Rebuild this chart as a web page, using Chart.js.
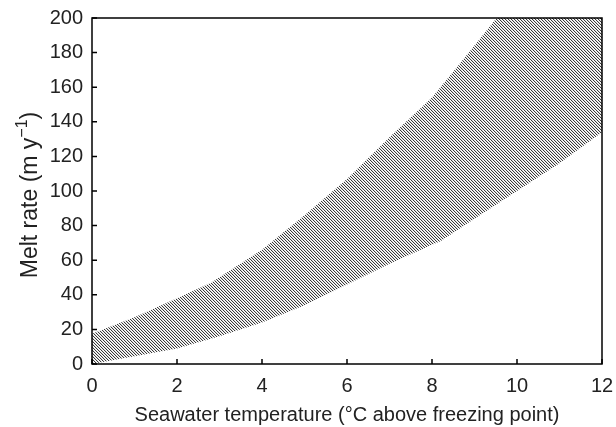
<!DOCTYPE html>
<html>
<head>
<meta charset="utf-8">
<script src="https://cdn.jsdelivr.net/npm/chart.js@4.4.1/dist/chart.umd.min.js"></script>
<style>
  html, body { margin: 0; padding: 0; background: #fff; }
  #wrap { width: 616px; height: 427px; }
</style>
</head>
<body>
<div id="wrap"><canvas id="chart" width="616" height="427"></canvas></div>
<script>
// band edges
const lowerX = [0, 1, 2, 3, 4, 5, 6, 7, 8, 8.2, 9, 10, 11, 12];
const lowerY = [0, 4.5, 9, 16, 24, 34, 46, 58, 69, 71, 84, 100, 116, 134];
const upperX = [0, 1, 2, 2.8, 4, 5, 6, 7, 8, 8.7, 9.52, 12];
const upperY = [17.5, 27, 38, 47, 66, 86, 107, 131, 154, 175, 200, 200];

const xTicks = [0, 2, 4, 6, 8, 10, 12];
const yTicks = [0, 20, 40, 60, 80, 100, 120, 140, 160, 180, 200];

const fontFamily = "'Liberation Sans', Arial, sans-serif";
const textColor = "#222";

function hatchPattern() {
    const c = document.createElement("canvas");
    c.width = 3;
    c.height = 3;
    const g = c.getContext("2d");
    g.fillStyle = "#fff";
    g.fillRect(0, 0, 3, 3);
    for (let i = 0; i < 3; i++) {
        g.fillStyle = "#3a3a3a";
        g.fillRect(i, i, 1, 1);
        g.fillStyle = "#dcdcdc";
        g.fillRect((i + 1) % 3, i, 1, 1);
    }
    return g.createPattern(c, "repeat");
}

// closed outline: along the lower edge, then back along the upper edge
const band = [];
lowerX.forEach((x, i) => band.push({ x, y: lowerY[i] }));
for (let i = upperX.length - 1; i >= 0; i--) band.push({ x: upperX[i], y: upperY[i] });

const frame = {
    id: "frame",
    afterDatasetsDraw(chart) {
        const { ctx, chartArea: a, scales } = chart;
        ctx.save();
        ctx.strokeStyle = "#000";
        ctx.lineWidth = 1.5;
        ctx.beginPath();
        xTicks.forEach(v => {
            const px = scales.x.getPixelForValue(v);
            ctx.moveTo(px, a.bottom);
            ctx.lineTo(px, a.bottom - 5);
        });
        yTicks.forEach(v => {
            const py = scales.y.getPixelForValue(v);
            ctx.moveTo(a.left, py);
            ctx.lineTo(a.left + 5, py);
        });
        ctx.stroke();
        ctx.strokeRect(a.left, a.top, a.right - a.left, a.bottom - a.top);
        ctx.restore();
    }
};

// y title with a real superscript
const yTitle = {
    id: "yTitle",
    afterDraw(chart) {
        const { ctx, chartArea: a } = chart;
        const parts = [
            { t: "Melt rate (m y", size: 23, rise: 0 },
            { t: "\u22121", size: 16, rise: 10 },
            { t: ")", size: 23, rise: 0 }
        ];
        ctx.save();
        let total = 0;
        parts.forEach(p => {
            ctx.font = `${p.size}px ${fontFamily}`;
            p.w = ctx.measureText(p.t).width;
            total += p.w;
        });
        ctx.translate(37, (a.top + a.bottom) / 2 + 4);
        ctx.rotate(-Math.PI / 2);
        ctx.fillStyle = textColor;
        ctx.textBaseline = "alphabetic";
        let x = -total / 2;
        parts.forEach(p => {
            ctx.font = `${p.size}px ${fontFamily}`;
            ctx.fillText(p.t, x, -p.rise);
            x += p.w;
        });
        ctx.restore();
    }
};

const font = { family: fontFamily, size: 20 };

new Chart(document.getElementById("chart"), {
    type: "line",
    data: {
        datasets: [{
            data: band,
            fill: "shape",
            backgroundColor: hatchPattern(),
            borderWidth: 0,
            pointRadius: 0,
            tension: 0
        }]
    },
    options: {
        responsive: false,
        animation: false,
        layout: { padding: { top: 18, right: 14, left: 0, bottom: 0 } },
        plugins: { legend: { display: false }, tooltip: { enabled: false } },
        scales: {
            x: {
                type: "linear",
                min: 0,
                max: 12,
                afterBuildTicks: s => { s.ticks = xTicks.map(v => ({ value: v })); },
                afterFit: s => { s.height = 63; s.paddingLeft = 0; s.paddingRight = 0; },
                grid: { display: false, drawTicks: false },
                border: { display: false },
                ticks: { color: textColor, font, padding: 10 },
                title: {
                    display: true,
                    text: "Seawater temperature (°C above freezing point)",
                    color: textColor,
                    font,
                    padding: { top: 8, bottom: 0 }
                }
            },
            y: {
                min: 0,
                max: 200,
                afterBuildTicks: s => { s.ticks = yTicks.map(v => ({ value: v })); },
                afterFit: s => { s.width = 92; s.paddingTop = 0; s.paddingBottom = 0; },
                grid: { display: false, drawTicks: false },
                border: { display: false },
                ticks: { color: textColor, font, padding: 9 }
            }
        }
    },
    plugins: [frame, yTitle]
});
</script>
</body>
</html>
